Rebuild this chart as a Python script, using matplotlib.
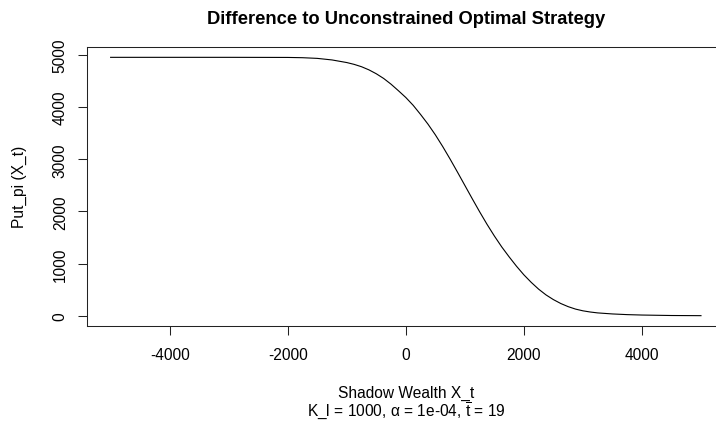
import matplotlib
matplotlib.use("Agg")
import matplotlib.pyplot as plt

plt.rcParams.update({
    "font.family": ["Liberation Sans", "DejaVu Sans"],
    "mathtext.fontset": "custom",
    "mathtext.rm": "Liberation Sans",
    "mathtext.it": "Liberation Sans",
    "mathtext.bf": "Liberation Sans:bold",
    "axes.unicode_minus": False,
})

# values
shadow_wealth = [-5000, -4000, -3000, -2000, -1750, -1500, -1250, -1000, -875, -750,
                 -625, -500, -375, -250, -125, 0, 125, 250, 375, 500,
                 625, 750, 875, 1000, 1125, 1250, 1375, 1500, 1625, 1750,
                 1875, 2000, 2125, 2250, 2375, 2500, 2625, 2750, 2875, 3000,
                 3125, 3250, 3500, 3750, 4000, 4500, 5000]
put_pi = [4955, 4955, 4955, 4953, 4948, 4935, 4905, 4855, 4820, 4775,
          4715, 4640, 4550, 4440, 4315, 4185, 4035, 3860, 3675, 3470,
          3245, 3005, 2755, 2500, 2245, 1995, 1755, 1530, 1320, 1130,
          950, 785, 640, 510, 400, 310, 235, 175, 128, 95,
          72, 55, 35, 22, 14, 5, 2]

x_ticks = [-4000, -2000, 0, 2000, 4000]
y_ticks = [0, 1000, 2000, 3000, 4000, 5000]

TITLE = "Difference to Unconstrained Optimal Strategy"
XLABEL = "Shadow Wealth X_t\n" + r"K_l = 1000, $\alpha$ = 1e-04, $\overline{\mathrm{t}}$ = 19"
YLABEL = "Put_pi (X_t)"

W, H = 716, 427
fig = plt.figure(figsize=(W / 100, H / 100), dpi=100)
# R-style plot region; right edge runs past the image like the original
ax = fig.add_axes([87 / W, (H - 327) / H, (724.6 - 87) / W, (327 - 48) / H])

ax.plot(shadow_wealth, put_pi, color="black", lw=0.8)
ax.margins(x=0.04, y=0.04)

ax.set_xticks(x_ticks)
ax.set_yticks(y_ticks)
ax.tick_params(direction="out", length=6.8, width=0.75, labelsize=11.2,
               colors="#222222", labelcolor="black")
ax.tick_params(axis="x", pad=8)
ax.tick_params(axis="y", pad=7)
plt.setp(ax.get_yticklabels(), rotation=90, va="center")
for sp in ax.spines.values():
    sp.set_linewidth(0.75)
    sp.set_color("#222222")

ax.set_title(TITLE, fontsize=13.2, fontweight="bold", pad=17)
fig.text(406 / W, 1 - 404 / H, XLABEL, ha="center", va="center",
         fontsize=11.2, linespacing=0.95)
fig.text(19 / W, 1 - 187 / H, YLABEL, rotation=90, ha="center", va="center",
         fontsize=11.2)

fig.savefig("out.png", dpi=100)
